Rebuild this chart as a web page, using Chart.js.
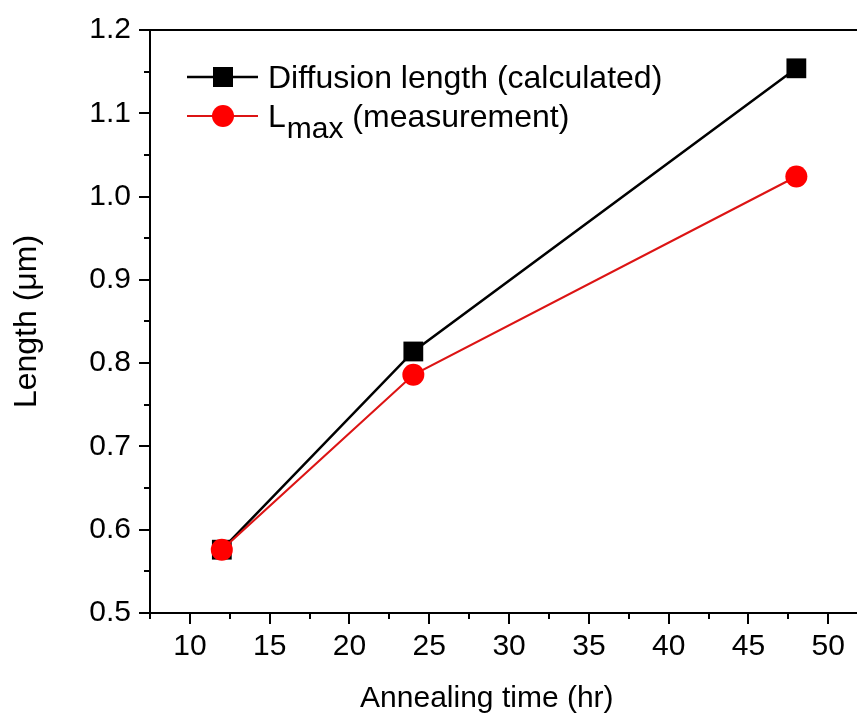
<!DOCTYPE html>
<html>
<head>
<meta charset="utf-8">
<script src="https://cdn.jsdelivr.net/npm/chart.js@4"></script>
<style>
  html, body { margin: 0; padding: 0; background: #fff; overflow: hidden; }
  #wrap { width: 857px; height: 720px; }
  canvas { display: block; }
</style>
</head>
<body>
<div id="wrap"><canvas id="myChart" width="857" height="720"></canvas></div>
<script>
// annealing time (hr)
const times = [12, 24, 48];
// diffusion length (calculated), um
const diffusion = [0.576, 0.814, 1.154];
// L_max (measurement), um
const lmax = [0.576, 0.786, 1.024];

const xTicks = [10, 15, 20, 25, 30, 35, 40, 45, 50];
const yTicks = [0.5, 0.6, 0.7, 0.8, 0.9, 1.0, 1.1, 1.2];

const FONT = '"Liberation Sans", Arial, sans-serif';

function toPoints(xs, ys) {
  let pts = [];
  for (let i = 0; i < xs.length; i += 1) {
    pts.push({ x: xs[i], y: ys[i] });
  }
  return pts;
}

function midpoints(arr) {
  let out = [];
  for (let i = 0; i < arr.length - 1; i += 1) {
    out.push((arr[i] + arr[i + 1]) / 2);
  }
  return out;
}

// chart.js reserves room for the end labels, we don't want that here
function noPadding(scale) {
  scale.paddingTop = 0;
  scale.paddingBottom = 0;
  scale.paddingLeft = 0;
  scale.paddingRight = 0;
}

// frame, outward ticks and the legend (with subscript)
const framePlugin = {
  id: "frame",
  afterDraw(chart) {
    const ctx = chart.ctx;
    const area = chart.chartArea;
    const xs = chart.scales.x;
    const ys = chart.scales.y;
    ctx.save();
    ctx.strokeStyle = "#000";
    ctx.lineWidth = 2;
    ctx.beginPath();
    ctx.moveTo(area.right + 2, area.top);
    ctx.lineTo(area.left, area.top);
    ctx.lineTo(area.left, area.bottom);
    ctx.lineTo(area.right + 2, area.bottom);
    ctx.stroke();

    const xMinor = midpoints(xTicks);
    xMinor.unshift(xTicks[0] - 2.5);
    xMinor.push(xTicks[xTicks.length - 1] + 2.5);

    ctx.beginPath();
    xTicks.forEach(v => {
      const px = Math.round(xs.getPixelForValue(v));
      ctx.moveTo(px, area.bottom);
      ctx.lineTo(px, area.bottom + 11);
    });
    xMinor.forEach(v => {
      if (v < xs.min || v > xs.max) return;
      const px = Math.round(xs.getPixelForValue(v));
      ctx.moveTo(px, area.bottom);
      ctx.lineTo(px, area.bottom + 6);
    });
    yTicks.forEach(v => {
      const py = Math.round(ys.getPixelForValue(v));
      ctx.moveTo(area.left, py);
      ctx.lineTo(area.left - 11, py);
    });
    midpoints(yTicks).forEach(v => {
      const py = Math.round(ys.getPixelForValue(v));
      ctx.moveTo(area.left, py);
      ctx.lineTo(area.left - 6, py);
    });
    ctx.stroke();

    // legend
    const lx = area.left + 37;
    const rows = [area.top + 47, area.top + 86];
    const sets = chart.data.datasets;
    for (let i = 0; i < 2; i += 1) {
      const ds = sets[i];
      const y = rows[i];
      ctx.strokeStyle = ds.borderColor;
      ctx.lineWidth = ds.borderWidth;
      ctx.beginPath();
      ctx.moveTo(lx, y);
      ctx.lineTo(lx + 71, y);
      ctx.stroke();
      ctx.fillStyle = ds.pointBackgroundColor;
      if (ds.pointStyle === "rect") {
        ctx.fillRect(lx + 36 - 10, y - 10, 20, 20);
      } else {
        ctx.beginPath();
        ctx.arc(lx + 36, y, 11, 0, Math.PI * 2);
        ctx.fill();
      }
    }
    ctx.fillStyle = "#000";
    ctx.textBaseline = "alphabetic";
    ctx.textAlign = "left";
    ctx.font = "32px " + FONT;
    ctx.fillText("Diffusion length (calculated)", lx + 81, rows[0] + 11);
    ctx.fillText("L", lx + 81, rows[1] + 11);
    let w = ctx.measureText("L").width;
    ctx.font = "30px " + FONT;
    ctx.fillText("max", lx + 81 + w + 1, rows[1] + 22);
    let w2 = ctx.measureText("max").width;
    ctx.font = "32px " + FONT;
    ctx.fillText(" (measurement)", lx + 81 + w + w2 + 1, rows[1] + 11);
    ctx.restore();
  }
};

const ctx = document.getElementById("myChart").getContext("2d");
const myChart = new Chart(ctx, {
  type: "line",
  data: {
    datasets: [
      {
        label: "Diffusion length (calculated)",
        data: toPoints(times, diffusion),
        borderColor: "#000000",
        backgroundColor: "#000000",
        pointBackgroundColor: "#000000",
        pointBorderColor: "#000000",
        pointStyle: "rect",
        pointRadius: 14,
        pointBorderWidth: 0,
        borderWidth: 2.5,
        order: 2,
      },
      {
        label: "Lmax (measurement)",
        data: toPoints(times, lmax),
        borderColor: "#dc1414",
        backgroundColor: "#ff0000",
        pointBackgroundColor: "#ff0000",
        pointBorderColor: "#ff0000",
        pointStyle: "circle",
        pointRadius: 11,
        pointBorderWidth: 0,
        borderWidth: 2.2,
        order: 1,
      },
    ],
  },
  options: {
    responsive: false,
    animation: false,
    clip: false,
    layout: { autoPadding: false, padding: { top: 30, right: 0, left: 0, bottom: 0 } },
    plugins: {
      legend: { display: false },
      tooltip: { enabled: false },
    },
    scales: {
      x: {
        type: "linear",
        min: 7.5,
        max: 51.8,
        afterBuildTicks: (scale) => { scale.ticks = xTicks.map(v => ({ value: v })); },
        afterFit: (scale) => { scale.height = 107; noPadding(scale); },
        grid: { display: false, drawTicks: false },
        border: { display: false },
        ticks: {
          padding: 16,
          color: "#000",
          font: { family: FONT, size: 30 },
          maxRotation: 0,
          autoSkip: false,
          callback: (v) => String(v),
        },
        title: {
          display: true,
          // trailing no-break spaces nudge the centred title a bit left, like the original
          text: "Annealing time (hr)\u00a0\u00a0\u00a0\u00a0",
          color: "#000",
          font: { family: FONT, size: 30 },
          padding: { top: 0, bottom: 3 },
        },
      },
      y: {
        type: "linear",
        min: 0.5,
        max: 1.2,
        afterBuildTicks: (scale) => { scale.ticks = yTicks.map(v => ({ value: v })); },
        afterFit: (scale) => { scale.width = 150; noPadding(scale); },
        grid: { display: false, drawTicks: false },
        border: { display: false },
        ticks: {
          padding: 19,
          color: "#000",
          font: { family: FONT, size: 30 },
          autoSkip: false,
          callback: (v) => Number(v).toFixed(1),
        },
        title: {
          display: true,
          text: "Length (\u03bcm)",
          color: "#000",
          font: { family: FONT, size: 32 },
          padding: { top: 8, bottom: 0 },
        },
      },
    },
  },
  plugins: [framePlugin],
});
</script>
</body>
</html>
